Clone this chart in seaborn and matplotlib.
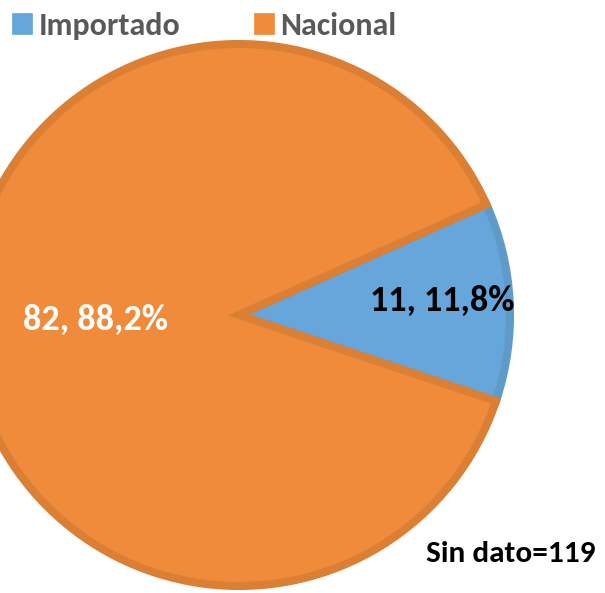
import matplotlib
matplotlib.use("Agg")
import matplotlib.pyplot as plt
import seaborn as sns
import numpy as np

categories = ["Importado", "Nacional"]
counts = [11, 82]
pct_labels = ["11, 11,8%", "82, 88,2%"]
note = "Sin dato=119"

fill_colors = ["#66A6DA", "#F08B3B"]
edge_colors = ["#5E9BC9", "#DA7F34"]
label_colors = ["black", "white"]

sns.set_theme(style="white")
plt.rcParams['font.family'] = ['Carlito', 'DejaVu Sans']

W, H = 605, 593
fig = plt.figure(figsize=(W / 100, H / 100), dpi=100)
ax = fig.add_axes([0, 0, 1, 1])

cx, cy = 239, H - 315
R = 271
wedges, _ = ax.pie(counts, colors=fill_colors, startangle=-18.5, counterclock=True,
                   center=(cx, cy), radius=R, frame=True,
                   wedgeprops=dict(linewidth=5.8))
for w, ec in zip(wedges, edge_colors):
    w.set_edgecolor(ec)
ax.set_xlim(0, W)
ax.set_ylim(0, H)
ax.set_aspect('equal')
ax.axis('off')

# label offsets relative to pie centre, in units of radius
label_pos = [(0.75, 0.062), (-0.528, -0.008)]
for (fx, fy), lab, col in zip(label_pos, pct_labels, label_colors):
    ax.text(cx + fx * R, cy + fy * R, lab, color=col, fontsize=26,
            fontweight='bold', ha='center', va='center_baseline')

ax.text(511, H - 552, note, fontsize=22.5, fontweight='bold', color='black',
        ha='center', va='center_baseline')

leg = ax.legend(wedges, categories, loc='upper left', ncol=2, frameon=False,
                bbox_to_anchor=(12 / W, 1 - 12 / H), borderpad=0, borderaxespad=0,
                handlelength=0.63, handleheight=0.63, handletextpad=0.2,
                columnspacing=2.3, prop=dict(size=23, weight='bold'))
for t in leg.get_texts():
    t.set_color('#595959')
for h, c in zip(leg.legend_handles, fill_colors):
    h.set_edgecolor(c)
    h.set_linewidth(0.5)

fig.savefig("out.png", dpi=100)
